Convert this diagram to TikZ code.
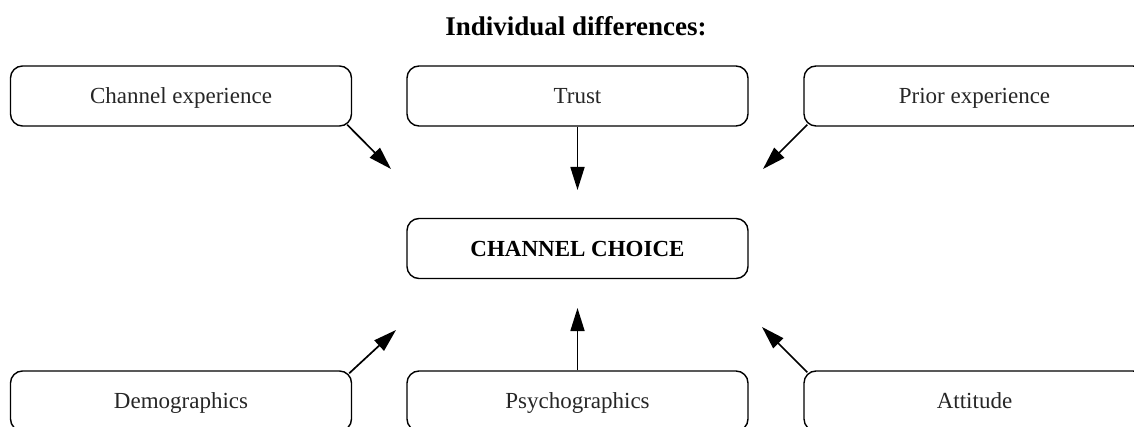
\documentclass[tikz,border=0pt]{standalone}
\usepackage{fontspec}
\setmainfont{Liberation Serif}
\usetikzlibrary{arrows.meta,calc}
\tikzset{
  factorbox/.style={draw, line width=1.4pt, rounded corners=12pt, minimum width=341pt, minimum height=60pt, inner sep=0pt, text height=15.5pt, text depth=0pt, font=\fontsize{23}{27}\selectfont, text=black!85},
  choicebox/.style={factorbox, font=\fontsize{23}{27}\selectfont\bfseries, text=black},
  infl/.style={line width=1.7pt, -{Triangle[length=23pt,width=14pt]}}
}
\begin{document}
\begin{tikzpicture}[x=1pt,y=-1pt]
\useasboundingbox (0,0) rectangle (1134,427);
\node[font=\fontsize{27}{31}\selectfont\bfseries, inner sep=0pt, text height=18pt, text depth=0pt] (title) at (576,27) {Individual differences:};
\node[factorbox] (ce) at (181,96) {Channel experience};
\node[factorbox] (tr) at (577.5,96) {Trust};
\node[factorbox] (pe) at (974.5,96) {Prior experience};
\node[choicebox] (cc) at (577.5,248.5) {CHANNEL CHOICE};
\node[factorbox] (de) at (181,401) {Demographics};
\node[factorbox] (ps) at (577.5,401) {Psychographics};
\node[factorbox] (at) at (974.5,401) {Attitude};
\coordinate (tce) at (391,169);
\coordinate (ttr) at (577.5,190);
\coordinate (tpe) at (763,169);
\coordinate (tde) at (396,330);
\coordinate (tps) at (577.5,308);
\coordinate (tat) at (762,327);
\draw[infl] ($(ce.south east)+(-5,-2)$) -- (tce);
\draw[infl] (tr.south) -- (ttr);
\draw[infl] ($(pe.south west)+(4,-2)$) -- (tpe);
\draw[infl] ($(de.north east)+(-3,3)$) -- (tde);
\draw[infl] (ps.north) -- (tps);
\draw[infl] ($(at.north west)+(4,2)$) -- (tat);
\end{tikzpicture}
\end{document}
